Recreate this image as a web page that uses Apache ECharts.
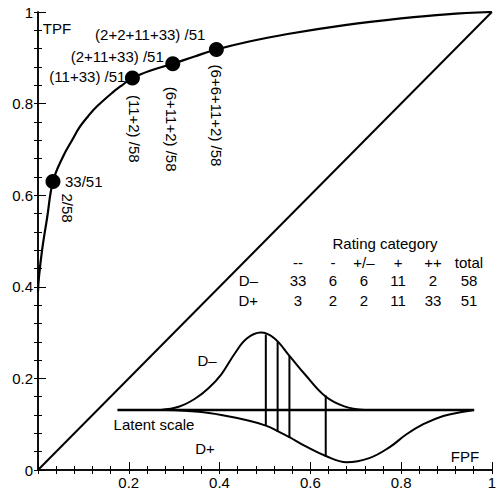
<!DOCTYPE html>
<html>
<head>
<meta charset="utf-8">
<script src="https://cdn.jsdelivr.net/npm/echarts@6/dist/echarts.min.js"></script>
<style>
  html, body { margin: 0; padding: 0; background: #fff; }
  #chart { width: 499px; height: 490px; }
</style>
</head>
<body>
<div id="chart"></div>
<script>
// ROC curve
var rocFpf = [0, 0.002, 0.009, 0.02, 0.033, 0.055, 0.075, 0.092, 0.11, 0.129, 0.164, 0.185, 0.208, 0.25, 0.297, 0.345, 0.393, 0.463, 0.55, 0.68, 0.8, 0.9, 1];
var rocTpf = [0.39, 0.42, 0.48, 0.55, 0.63, 0.684, 0.72, 0.749, 0.772, 0.793, 0.824, 0.84, 0.856, 0.873, 0.887, 0.903, 0.918, 0.935, 0.952, 0.972, 0.986, 0.995, 1];

// operating points and their labels
var pointFpf = [0.033, 0.208, 0.297, 0.393];
var pointTpf = [0.63, 0.856, 0.887, 0.918];
var tpfLabels = ['33/51', '(11+33) /51', '(2+11+33) /51', '(2+2+11+33) /51'];
var fpfLabels = ['2/58', '(11+2) /58', '(6+11+2) /58', '(6+6+11+2) /58'];

// rating table
var ratingCategories = ['--', '-', '+/\u2013', '+', '++', 'total'];
var countsNeg = [33, 6, 6, 11, 2, 58];
var countsPos = [3, 2, 2, 11, 33, 51];

// latent scale inset (drawn in the same FPF/TPF frame)
var latentX = [0.175, 0.961];
var latentY = [0.131, 0.131];
var negDistX = [0.27, 0.31, 0.345, 0.375, 0.404, 0.434, 0.46, 0.491, 0.52, 0.555, 0.588, 0.633, 0.675, 0.72];
var negDistY = [0.131, 0.138, 0.155, 0.178, 0.209, 0.255, 0.287, 0.3, 0.288, 0.248, 0.209, 0.161, 0.139, 0.131];
var posDistX = [0.282, 0.354, 0.404, 0.463, 0.502, 0.528, 0.555, 0.587, 0.633, 0.68, 0.73, 0.775, 0.812, 0.849, 0.893, 0.937, 0.961];
var posDistY = [0.131, 0.127, 0.12, 0.108, 0.097, 0.085, 0.071, 0.053, 0.031, 0.017, 0.026, 0.05, 0.078, 0.1, 0.118, 0.127, 0.131];
var cutX = [0.502, 0.528, 0.554, 0.634];
var cutTop = [0.296, 0.28, 0.249, 0.163];
var cutBottom = [0.096, 0.083, 0.07, 0.03];

var FONT = '"Liberation Sans", Arial, Helvetica, sans-serif';

function zip (xs, ys) {
  return xs.map(function (x, i) { return [x, ys[i]]; });
}

// canvas drops the thin ticks here, svg draws them
var chart = echarts.init(document.getElementById('chart'), null, { renderer: 'svg' });

function blackLine (w) {
  return { color: '#000', width: w };
}

var series = [
  { type: 'line', data: [[0, 0], [1, 1]], symbol: 'none', lineStyle: blackLine(2), silent: true },
  { type: 'line', data: zip(rocFpf, rocTpf), smooth: 0.4, symbol: 'none', lineStyle: blackLine(2.2), silent: true },
  {
    type: 'scatter', data: zip(pointFpf, pointTpf), symbol: 'circle', symbolSize: 15,
    itemStyle: { color: '#000', opacity: 1 }, silent: true
  },
  { type: 'line', data: zip(latentX, latentY), symbol: 'none', lineStyle: blackLine(2.4), silent: true },
  { type: 'line', data: zip(negDistX, negDistY), smooth: 0.4, symbol: 'none', lineStyle: blackLine(2), silent: true },
  { type: 'line', data: zip(posDistX, posDistY), smooth: 0.4, symbol: 'none', lineStyle: blackLine(2), silent: true }
];

// cut points between rating categories
cutX.forEach(function (x, i) {
  series.push({
    type: 'line', data: [[x, cutTop[i]], [x, cutBottom[i]]],
    symbol: 'none', lineStyle: blackLine(2), silent: true
  });
});

var tickStyle = { color: '#000', width: 1 };

var option = {
  animation: false,
  backgroundColor: '#fff',
  grid: { left: 38, right: 3, top: 12, bottom: 19 },
  xAxis: [
    {
      type: 'value', min: 0, max: 1, interval: 0.2, position: 'bottom',
      axisLine: { show: true, lineStyle: { color: '#000', width: 1.5 } },
      axisTick: { show: true, inside: true, length: 8, lineStyle: tickStyle },
      minorTick: { show: true, splitNumber: 5, length: 4, lineStyle: tickStyle },
      splitLine: { show: false },
      axisLabel: {
        color: '#000', fontSize: 15, fontFamily: FONT, margin: 5,
        formatter: function (v) { return v === 0 ? '' : String(v); }
      }
    },
    {
      type: 'value', min: 0, max: 1, interval: 0.04, position: 'top',
      axisLine: { show: true, lineStyle: { color: '#000', width: 1.5 } },
      axisTick: { show: true, inside: true, length: 4, lineStyle: tickStyle },
      splitLine: { show: false },
      axisLabel: { show: false }
    }
  ],
  yAxis: [
    {
      type: 'value', min: 0, max: 1, interval: 0.2, position: 'left',
      axisLine: { show: true, lineStyle: { color: '#000', width: 1.5 } },
      axisTick: { show: true, inside: true, length: 8, lineStyle: tickStyle },
      minorTick: { show: true, splitNumber: 5, length: 4, lineStyle: tickStyle },
      splitLine: { show: false },
      axisLabel: { color: '#000', fontSize: 15, fontFamily: FONT, margin: 5 }
    },
    {
      type: 'value', min: 0, max: 1, interval: 0.04, position: 'right',
      axisLine: { show: true, lineStyle: { color: '#000', width: 1.5 } },
      axisTick: { show: true, inside: true, length: 4, lineStyle: tickStyle },
      splitLine: { show: false },
      axisLabel: { show: false }
    }
  ],
  series: series
};

chart.setOption(option);

function txt (x, y, s, align, rot) {
  return {
    type: 'text', x: x, y: y, rotation: rot || 0, silent: true,
    style: { text: s, fill: '#000', font: '15px ' + FONT, align: align || 'center', verticalAlign: 'middle' }
  };
}

var graphics = [];
// pixel offsets from each point: horizontal TPF label, rotated FPF label
var tpfOff = [[12, 0, 'left'], [-7, -1, 'right'], [-9, -7, 'right'], [-11, -15, 'right']];
var fpfOff = [[15, 12], [2, 17], [-1, 23], [0, 15]];
pointFpf.forEach(function (x, i) {
  var p = chart.convertToPixel({ xAxisIndex: 0, yAxisIndex: 0 }, [x, pointTpf[i]]);
  graphics.push(txt(p[0] + tpfOff[i][0], p[1] + tpfOff[i][1], tpfLabels[i], tpfOff[i][2]));
  graphics.push(txt(p[0] + fpfOff[i][0], p[1] + fpfOff[i][1], fpfLabels[i], 'left', -Math.PI / 2));
});

graphics.push(txt(57, 28, 'TPF'));
graphics.push(txt(465, 456, 'FPF'));
graphics.push(txt(207, 360, 'D\u2013'));
graphics.push(txt(205, 448, 'D+'));
graphics.push(txt(154, 424, 'Latent scale'));

// table
var colX = [298, 333, 364, 398, 433, 469];
graphics.push(txt(385, 243, 'Rating category'));
ratingCategories.forEach(function (c, i) { graphics.push(txt(colX[i], 262, c)); });
graphics.push(txt(258, 280, 'D\u2013', 'right'));
graphics.push(txt(258, 300, 'D+', 'right'));
countsNeg.forEach(function (v, i) { graphics.push(txt(colX[i], 280, String(v))); });
countsPos.forEach(function (v, i) { graphics.push(txt(colX[i], 300, String(v))); });

chart.setOption({ graphic: graphics });
</script>
</body>
</html>
